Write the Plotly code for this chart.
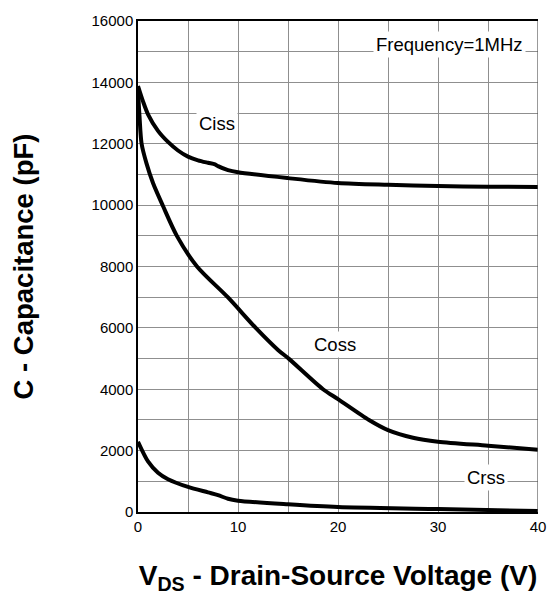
import plotly.graph_objects as go

# Capacitance vs. drain-source voltage (f = 1 MHz)
vds_ciss = [0, 0.5, 1, 2, 3, 4, 5, 6, 7, 7.7, 8, 9, 10, 15, 20, 25, 30, 35, 40]
ciss = [13880, 13380, 12960, 12420, 12060, 11780, 11580, 11460, 11380, 11330, 11270, 11140, 11070, 10880, 10720, 10660, 10620, 10600, 10590]

vds_coss = [0, 0.15, 0.36, 0.85, 1.5, 2.5, 3.9, 5.9, 9.0, 11.8, 14.0, 15.1, 18.5, 20, 23.1, 25, 27.5, 30, 35, 40]
coss = [13750, 12900, 12000, 11360, 10720, 9970, 8990, 8000, 6990, 5990, 5280, 4990, 4000, 3680, 3000, 2670, 2420, 2290, 2160, 2030]

vds_crss = [0, 1, 2, 3, 5, 7, 8, 9, 10, 15, 20, 30, 40]
crss = [2290, 1650, 1280, 1070, 820, 640, 550, 430, 370, 250, 160, 100, 30]

series = [("Ciss", vds_ciss, ciss), ("Coss", vds_coss, coss), ("Crss", vds_crss, crss)]

fig = go.Figure()
for name, x, y in series:
    fig.add_trace(go.Scatter(
        x=x, y=y, name=name, mode="lines",
        line=dict(color="black", width=4, shape="spline", smoothing=0.8),
        showlegend=False,
    ))

font = "Liberation Sans, Arial, sans-serif"
grid = "#8f8f8f"
label_font = dict(size=18.5, family=font, color="black")

fig.update_layout(
    width=558, height=598,
    margin=dict(l=138, r=13, t=15, b=83),
    paper_bgcolor="white", plot_bgcolor="white",
    font=dict(family=font, size=15, color="black"),
    xaxis=dict(
        range=[0, 40], dtick=10, tick0=0, tickformat="d",
        showgrid=True, gridcolor=grid, gridwidth=1,
        minor=dict(dtick=5, showgrid=True, gridcolor=grid, gridwidth=1),
        showline=True, linecolor="black", linewidth=1.5, mirror=True,
        ticks="", ticklen=0,
        zeroline=False,
        title=dict(text="<b>V<sub>DS</sub> - Drain-Source Voltage (V)</b>",
                   font=dict(size=28, family=font), standoff=32),
    ),
    yaxis=dict(
        range=[0, 16000], dtick=2000, tick0=0, tickformat="d",
        showgrid=True, gridcolor=grid, gridwidth=1,
        minor=dict(dtick=1000, showgrid=True, gridcolor=grid, gridwidth=1),
        showline=True, linecolor="black", linewidth=1.5,
        ticks="", ticklen=0,
        zeroline=False,
        title=dict(text="<b>C - Capacitance (pF)</b>",
                   font=dict(size=27.5, family=font), standoff=50),
    ),
    shapes=[dict(type="line", xref="x", yref="y", x0=40, x1=40, y0=0, y1=16000,
                 line=dict(color="#555555", width=1.2))],
    annotations=[
        dict(x=31.15, y=15230, xref="x", yref="y", text="Frequency=1MHz",
             showarrow=False, bgcolor="white", font=label_font, borderpad=2),
        dict(x=7.93, y=12660, xref="x", yref="y", text="Ciss",
             showarrow=False, bgcolor="white", font=label_font, borderpad=2),
        dict(x=19.66, y=5470, xref="x", yref="y", text="Coss",
             showarrow=False, bgcolor="white", font=label_font, borderpad=2),
        dict(x=34.8, y=1140, xref="x", yref="y", text="Crss",
             showarrow=False, bgcolor="white", font=label_font, borderpad=2),
    ],
)

fig.write_html("out.html")
